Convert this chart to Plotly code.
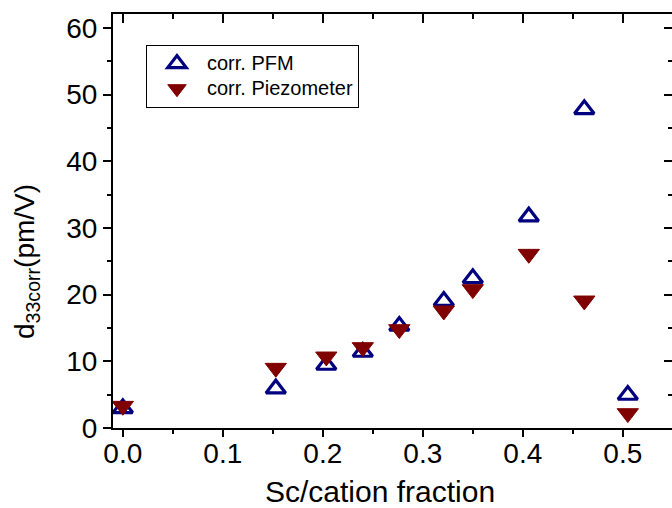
import plotly.graph_objects as go

# Sc content (cation fraction) shared by both measurement series
sc_fraction = [0.0, 0.153, 0.2035, 0.24, 0.2765, 0.321, 0.35, 0.406, 0.4615, 0.505]

# corrected d33 values (pm/V)
d33_pfm = [2.95, 5.9, 9.45, 11.4, 15.3, 19.05, 22.45, 31.7, 47.8, 4.95]
d33_piezometer = [3.3, 9.0, 10.7, 12.1, 14.8, 17.6, 20.8, 26.1, 19.1, 2.2]

series_names = ["corr. PFM", "corr. Piezometer"]
x_title = "Sc/cation fraction"
y_title = "d<sub>33corr</sub>(pm/V)"

x_range = [-0.0098, 0.5492]
y_range = [0, 62.1]
FONT = "Arial, Liberation Sans, sans-serif"
BLUE = "#000080"
WINE = "#800000"

fig = go.Figure()
fig.add_trace(go.Scatter(
    x=sc_fraction, y=d33_pfm, mode="markers",
    name="<span style='font-size:20px'>%s</span>" % series_names[0],
    marker=dict(symbol="triangle-up-open", size=17, color=BLUE,
                line=dict(width=3.2, color=BLUE)),
))
fig.add_trace(go.Scatter(
    x=sc_fraction, y=d33_piezometer, mode="markers",
    name="<span style='font-size:20px'>%s</span>" % series_names[1],
    marker=dict(symbol="triangle-down", size=18.5, color=WINE,
                line=dict(width=1, color=WINE)),
))
# placeholder trace so the mirrored top/right axes are rendered
fig.add_trace(go.Scatter(x=[None], y=[None], xaxis="x2", yaxis="y2",
                         showlegend=False, hoverinfo="skip"))

tick_font = dict(family=FONT, size=28, color="black")
common = dict(showline=True, linecolor="black", linewidth=2, showgrid=False,
              zeroline=False, tickcolor="black", tickwidth=2)

fig.update_layout(
    width=672, height=508,
    margin=dict(l=113, r=0, t=14, b=80),
    paper_bgcolor="white", plot_bgcolor="white",
    font=dict(family=FONT, color="black"),
    xaxis=dict(range=x_range, dtick=0.1, tick0=0, tickformat=".1f",
               ticks="outside", ticklen=7, tickfont=tick_font,
               ticklabelstandoff=-8,
               minor=dict(dtick=0.05, ticks="outside", ticklen=4,
                          tickcolor="black", tickwidth=1.5),
               **common),
    yaxis=dict(range=y_range, dtick=10, tick0=0,
               ticks="outside", ticklen=8, tickfont=tick_font,
               minor=dict(dtick=5, ticks="outside", ticklen=4,
                          tickcolor="black", tickwidth=1.5),
               **common),
    xaxis2=dict(range=x_range, overlaying="x", side="top", dtick=0.1, tick0=0,
                ticks="inside", ticklen=9, showticklabels=False,
                minor=dict(dtick=0.05, ticks="inside", ticklen=5,
                           tickcolor="black", tickwidth=1.5),
                **common),
    yaxis2=dict(range=y_range, overlaying="y", side="right", dtick=10, tick0=0,
                ticks="inside", ticklen=8, showticklabels=False,
                minor=dict(dtick=5, ticks="inside", ticklen=4,
                           tickcolor="black", tickwidth=1.5),
                **common),
    legend=dict(x=0.059, y=0.925, xanchor="left", yanchor="top",
                bgcolor="white", bordercolor="black", borderwidth=1,
                font=dict(family=FONT, size=17, color="black"),
                itemwidth=50, entrywidth=214, entrywidthmode="pixels"),
    showlegend=True,
    annotations=[
        dict(text=x_title, showarrow=False,
             xref="paper", yref="paper", x=0.4776, y=-0.1522,
             xanchor="center", yanchor="middle",
             font=dict(family=FONT, size=30, color="black")),
        dict(text=y_title, textangle=-90, showarrow=False,
             xref="paper", yref="paper", x=-0.1538, y=0.401,
             xanchor="center", yanchor="middle",
             font=dict(family=FONT, size=28, color="black")),
    ],
)

fig.write_html("out.html")
